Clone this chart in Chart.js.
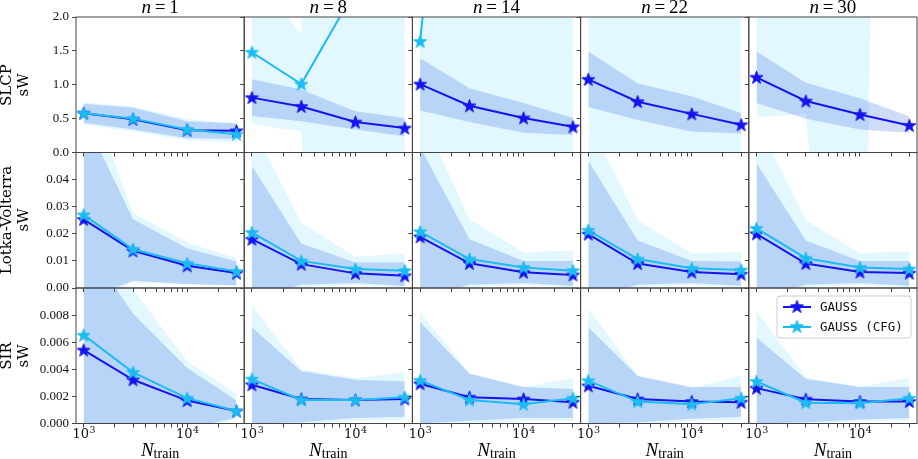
<!DOCTYPE html>
<html>
<head>
<meta charset="utf-8">
<script src="https://cdn.jsdelivr.net/npm/chart.js@4.4.1/dist/chart.umd.min.js"></script>
<style>
  body { margin: 0; background: #fff; }
  #wrap { position: relative; width: 918px; height: 459px; overflow: hidden; }
  #wrap canvas { position: absolute; left: 0; top: 0; }
  .coltitle, .xtitle { position: absolute; text-align: center; font-family: "Liberation Serif"; color: #000; white-space: nowrap; }
  .coltitle { font-size: 19px; line-height: 18px; }
  .xtitle { font-size: 19px; line-height: 18px; }
  .xtitle .sub { font-size: 14px; position: relative; top: 2px; }
  .rowtitle { position: absolute; width: 150px; height: 36px; text-align: center; font-family: "DejaVu Serif"; font-size: 15px; line-height: 17px; transform: rotate(-90deg); color: #000; }
</style>
</head>
<body>
<div id="wrap"></div>
<script>
// x values and labels
const nTrain = [1000, 3000, 10000, 30000];
const nValues = [1, 8, 14, 22, 30];
const taskNames = ["SLCP", "Lotka-Volterra", "SIR"];
const metricName = "sW";
const seriesNames = ["GAUSS", "GAUSS (CFG)"];
const xTicks = [1000, 2000, 3000, 4000, 5000, 6000, 7000, 8000, 9000, 10000, 20000, 30000];
const xLabelTicks = [1000, 10000];
const yTicksSlcp = [0, 0.5, 1, 1.5, 2];
const yTicksLv = [0, 0.01, 0.02, 0.03, 0.04, 0.05];
const yTicksSir = [0, 0.002, 0.004, 0.006, 0.008, 0.01];

// SLCP, one row per n
const slcpGauss = [[0.58, 0.49, 0.33, 0.32], [0.81, 0.68, 0.45, 0.36], [1.01, 0.69, 0.51, 0.38], [1.08, 0.75, 0.57, 0.41], [1.11, 0.76, 0.56, 0.40]];
const slcpGaussLo = [[0.44, 0.34, 0.21, 0.20], [0.54, 0.46, 0.34, 0.24], [0.62, 0.45, 0.29, 0.26], [0.67, 0.48, 0.31, 0.28], [0.73, 0.50, 0.34, 0.29]];
const slcpGaussHi = [[0.72, 0.66, 0.46, 0.43], [1.08, 0.93, 0.61, 0.51], [1.39, 0.95, 0.73, 0.51], [1.49, 1.02, 0.83, 0.58], [1.49, 1.03, 0.80, 0.53]];
const slcpCfg = [[0.58, 0.50, 0.34, 0.27], [1.48, 1.01, 2.4, 3.0], [1.64, 8.5, 12, 15], [4.2, 6.0, 8.0, 10], [4.5, 7.0, 9.0, 12]];
const slcpCfgLo = [[0.41, 0.31, 0.18, 0.15], [0.42, 0.31, -10, -10], [-1, -20, -20, -20], [-5, -20, -20, -20], [0.52, 0.57, -8, 40]];
const slcpCfgHi = [[0.74, 0.68, 0.50, 0.42], [2.59, 1.76, 30, 30], [5, 30, 30, 30], [12, 30, 30, 30], [8, 12, 40, 50]];

// Lotka-Volterra
const lvGauss = [[0.0253, 0.0137, 0.0082, 0.0055], [0.0180, 0.0088, 0.0054, 0.0045], [0.0189, 0.0091, 0.0058, 0.0048], [0.0199, 0.0090, 0.0059, 0.0051], [0.0200, 0.0090, 0.0059, 0.0055]];
const lvGaussLo = [[-0.0042, 0.0027, 0.0015, 0.0010], [-0.004, 0.0012, 0.0018, 0.0007], [-0.004, 0.0012, 0.0018, 0.0007], [-0.004, 0.0012, 0.0018, 0.0008], [-0.004, 0.0012, 0.0018, 0.0008]];
const lvGaussHi = [[0.0632, 0.0254, 0.0147, 0.0098], [0.0450, 0.0164, 0.0094, 0.0094], [0.052, 0.0180, 0.0100, 0.0100], [0.047, 0.0175, 0.0100, 0.0098], [0.046, 0.0175, 0.0100, 0.0100]];
const lvCfg = [[0.0270, 0.0143, 0.0091, 0.0061], [0.0205, 0.0100, 0.0070, 0.0064], [0.0208, 0.0107, 0.0076, 0.0064], [0.0213, 0.0107, 0.0073, 0.0066], [0.0220, 0.0110, 0.0076, 0.0070]];
const lvCfgLo = [[-0.006, 0.0021, 0.0012, 0.0007], [-0.006, 0.0004, 0.0012, 0.0003], [-0.006, 0.0004, 0.0012, 0.0003], [-0.006, 0.0004, 0.0012, 0.0003], [-0.006, 0.0004, 0.0012, 0.0003]];
const lvCfgHi = [[0.0768, 0.0278, 0.0168, 0.0110], [0.060, 0.0241, 0.0115, 0.0127], [0.065, 0.0254, 0.0131, 0.0138], [0.062, 0.0250, 0.0128, 0.0132], [0.062, 0.0250, 0.0128, 0.0135]];

// SIR
const sirGauss = [[0.00542, 0.00323, 0.00169, 0.00092], [0.00286, 0.00181, 0.00174, 0.00181], [0.00293, 0.00194, 0.00181, 0.00157], [0.00278, 0.00181, 0.00162, 0.00157], [0.00261, 0.00179, 0.00162, 0.00162]];
const sirGaussLo = [[-0.003, -0.002, -0.0004, 0.00045], [0.0, 0.0001, 0.0004, 0.0005], [0.0, 0.0002, 0.0004, 0.0004], [0.0, 0.0001, 0.00035, 0.0005], [0.0, 0.0001, 0.0003, 0.0004]];
const sirGaussHi = [[0.0135, 0.0081, 0.0041, 0.0017], [0.0071, 0.00385, 0.00323, 0.0031], [0.0075, 0.00368, 0.0027, 0.00254], [0.0071, 0.0035, 0.0027, 0.0027], [0.00634, 0.00328, 0.0027, 0.0027]];
const sirCfg = [[0.00652, 0.00378, 0.00187, 0.00092], [0.00328, 0.00174, 0.00174, 0.00194], [0.00318, 0.00174, 0.00142, 0.00187], [0.00316, 0.00162, 0.00142, 0.00187], [0.00310, 0.00154, 0.00150, 0.00187]];
const sirCfgLo = [[-0.004, -0.0025, -0.0006, 0.0003], [-0.0003, -0.0001, 0.0002, 0.0003], [-0.0003, -0.0001, 0.0002, 0.0002], [-0.0003, -0.0001, 0.0002, 0.0002], [-0.0003, -0.0001, 0.0002, 0.0002]];
const sirCfgHi = [[0.0142, 0.0099, 0.0046, 0.0022], [0.00875, 0.0040, 0.00336, 0.00378], [0.0082, 0.0037, 0.0027, 0.00336], [0.0085, 0.0035, 0.0026, 0.0035], [0.0083, 0.0034, 0.0027, 0.0034]];

// Colours
const gaussColor = "#1414ee";
const cfgColor = "#1cbcf2";
const gaussBand = "rgba(60, 110, 230, 0.25)";
const cfgBand = "rgba(60, 200, 250, 0.15)";

// Grid geometry (canvases are drawn a bit larger than the page so no edge padding gets in the way)
const canvasW = 960, canvasH = 480;
const plotLeft = 76, plotTop = 17, cellW = 168.2, cellH = 135.5;
const yAxisW = 42, xAxisH = 24;
const xMin = 843, xMax = 35560;

const rows = [
    { ticks: yTicksSlcp, digits: 1, gauss: slcpGauss, gaussLo: slcpGaussLo, gaussHi: slcpGaussHi, cfg: slcpCfg, cfgLo: slcpCfgLo, cfgHi: slcpCfgHi },
    { ticks: yTicksLv, digits: 2, gauss: lvGauss, gaussLo: lvGaussLo, gaussHi: lvGaussHi, cfg: lvCfg, cfgLo: lvCfgLo, cfgHi: lvCfgHi },
    { ticks: yTicksSir, digits: 3, gauss: sirGauss, gaussLo: sirGaussLo, gaussHi: sirGaussHi, cfg: sirCfg, cfgLo: sirCfgLo, cfgHi: sirCfgHi },
];

const wrap = document.querySelector("#wrap");

// Filled five-point star used as the marker
function starImage(color) {
    const s = document.createElement("canvas");
    s.width = 15; s.height = 15;
    const g = s.getContext("2d");
    g.beginPath();
    for (let k = 0; k < 10; k++) {
        const rad = k % 2 === 0 ? 6.8 : 2.7;
        const ang = -Math.PI / 2 + k * Math.PI / 5;
        const px = 7.5 + rad * Math.cos(ang), py = 8 + rad * Math.sin(ang);
        if (k === 0) g.moveTo(px, py); else g.lineTo(px, py);
    }
    g.closePath();
    g.fillStyle = color;
    g.fill();
    g.strokeStyle = color;
    g.lineWidth = 1;
    g.stroke();
    return s;
}
const gaussStar = starImage(gaussColor);
const cfgStar = starImage(cfgColor);

// Box round every panel
const frame = {
    id: "frame",
    afterDatasetsDraw(chart) {
        const { ctx, chartArea: a } = chart;
        ctx.save();
        ctx.strokeStyle = "#444";
        ctx.lineWidth = 1;
        ctx.strokeRect(a.left, a.top, a.right - a.left, a.bottom - a.top);
        ctx.restore();
    }
};

// "10^k" labels under the bottom row, placed with the x scale
const powerLabels = {
    id: "powerLabels",
    afterDraw(chart) {
        const { ctx } = chart;
        const xs = chart.scales.x;
        const base = chart.chartArea.bottom + 14;
        ctx.save();
        ctx.fillStyle = "#111";
        ctx.textBaseline = "alphabetic";
        xLabelTicks.forEach(v => {
            const exp = String(Math.round(Math.log10(v)));
            ctx.font = "13px 'DejaVu Serif'";
            const w1 = ctx.measureText("10").width;
            ctx.font = "9.5px 'DejaVu Serif'";
            const w2 = ctx.measureText(exp).width;
            const x0 = xs.getPixelForValue(v) - (w1 + w2) / 2;
            ctx.font = "13px 'DejaVu Serif'";
            ctx.fillText("10", x0, base);
            ctx.font = "9.5px 'DejaVu Serif'";
            ctx.fillText(exp, x0 + w1 + 0.5, base - 5);
        });
        ctx.restore();
    }
};

// Legend drawn inside the last panel
const starLegend = {
    id: "starLegend",
    afterDraw(chart) {
        const { ctx, chartArea: a } = chart;
        const x0 = a.right - 140, y0 = a.top + 8, w = 134, h = 42, rr = 3;
        ctx.save();
        ctx.beginPath();
        ctx.moveTo(x0 + rr, y0);
        ctx.arcTo(x0 + w, y0, x0 + w, y0 + h, rr);
        ctx.arcTo(x0 + w, y0 + h, x0, y0 + h, rr);
        ctx.arcTo(x0, y0 + h, x0, y0, rr);
        ctx.arcTo(x0, y0, x0 + w, y0, rr);
        ctx.closePath();
        ctx.fillStyle = "rgba(255,255,255,0.8)";
        ctx.fill();
        ctx.strokeStyle = "#cccccc";
        ctx.lineWidth = 1;
        ctx.stroke();
        [[gaussColor, gaussStar], [cfgColor, cfgStar]].forEach(([color, star], i) => {
            const yy = y0 + 11 + i * 20;
            ctx.strokeStyle = color;
            ctx.lineWidth = 2;
            ctx.beginPath();
            ctx.moveTo(x0 + 6, yy);
            ctx.lineTo(x0 + 34, yy);
            ctx.stroke();
            ctx.drawImage(star, x0 + 20 - 7.5, yy - 8);
            ctx.fillStyle = "#111";
            ctx.font = "12.5px 'DejaVu Sans Mono'";
            ctx.textBaseline = "middle";
            ctx.fillText(seriesNames[i], x0 + 43, yy + 1);
        });
        ctx.restore();
    }
};

const pts = arr => arr.map((v, i) => ({ x: nTrain[i], y: v }));

function makePanel(r, c) {
    const row = rows[r];
    const yMax = row.ticks[row.ticks.length - 1];
    const cv = document.createElement("canvas");
    cv.width = canvasW; cv.height = canvasH;
    wrap.appendChild(cv);

    const left = plotLeft + c * cellW, top = plotTop + r * cellH;
    const right = left + cellW, bottom = top + cellH;

    const datasets = [
        { data: pts(row.cfgLo[c]), borderWidth: 0, pointRadius: 0, fill: false, order: 3 },
        { data: pts(row.cfgHi[c]), borderWidth: 0, pointRadius: 0, fill: "-1", backgroundColor: cfgBand, order: 3 },
        { data: pts(row.gaussLo[c]), borderWidth: 0, pointRadius: 0, fill: false, order: 2 },
        { data: pts(row.gaussHi[c]), borderWidth: 0, pointRadius: 0, fill: "-1", backgroundColor: gaussBand, order: 2 },
        { label: seriesNames[0], data: pts(row.gauss[c]), borderColor: gaussColor, backgroundColor: gaussColor, borderWidth: 2, pointStyle: gaussStar, pointRadius: 6, fill: false, order: 1 },
        { label: seriesNames[1], data: pts(row.cfg[c]), borderColor: cfgColor, backgroundColor: cfgColor, borderWidth: 2, pointStyle: cfgStar, pointRadius: 6, fill: false, order: 0 },
    ];

    const extra = [frame];
    if (r === 2) extra.push(powerLabels);
    if (r === 2 && c === 4) extra.push(starLegend);

    new Chart(cv, {
        type: "line",
        data: { datasets: datasets },
        options: {
            responsive: false,
            animation: false,
            devicePixelRatio: 1,
            layout: { padding: { left: left - yAxisW, right: canvasW - right, top: top, bottom: canvasH - bottom - xAxisH } },
            plugins: { legend: { display: false }, tooltip: { enabled: false } },
            elements: { line: { tension: 0 } },
            scales: {
                x: {
                    type: "logarithmic",
                    min: xMin,
                    max: xMax,
                    afterBuildTicks: s => { s.ticks = xTicks.map(v => ({ value: v })); },
                    afterFit: s => { s.height = xAxisH; },
                    ticks: { display: false },
                    grid: { drawOnChartArea: false, tickLength: 4, color: "#444" },
                    border: { display: false }
                },
                y: {
                    min: 0,
                    max: yMax,
                    afterBuildTicks: s => { s.ticks = row.ticks.map(v => ({ value: v })); },
                    afterFit: s => { s.width = yAxisW; },
                    ticks: {
                        display: c === 0,
                        autoSkip: false,
                        padding: 3,
                        color: "#111",
                        font: { family: "Liberation Serif", size: 13 },
                        callback: v => (r > 0 && v === yMax) ? "" : v.toFixed(row.digits)
                    },
                    grid: { drawOnChartArea: false, tickLength: 4, color: "#444" },
                    border: { display: false }
                }
            }
        },
        plugins: extra
    });
}

for (let r = 0; r < 3; r++) {
    for (let c = 0; c < 5; c++) makePanel(r, c);
}

// Column titles, row titles and x axis titles
nValues.forEach((n, c) => {
    const d = document.createElement("div");
    d.className = "coltitle";
    d.style.left = (plotLeft + c * cellW) + "px";
    d.style.width = cellW + "px";
    d.style.top = "-2px";
    d.innerHTML = `<i>n</i>&thinsp;=&thinsp;${n}`;
    wrap.appendChild(d);

    const x = document.createElement("div");
    x.className = "xtitle";
    x.style.left = (plotLeft + c * cellW) + "px";
    x.style.width = cellW + "px";
    x.style.top = "441px";
    x.innerHTML = `<i>N</i><span class="sub">train</span>`;
    wrap.appendChild(x);
});

taskNames.forEach((name, r) => {
    const d = document.createElement("div");
    d.className = "rowtitle";
    const cy = plotTop + r * cellH + cellH / 2;
    d.style.left = (16 - 75) + "px";
    d.style.top = (cy - 18) + "px";
    d.innerHTML = `${name}<br>${metricName}`;
    wrap.appendChild(d);
});
</script>
</body>
</html>
